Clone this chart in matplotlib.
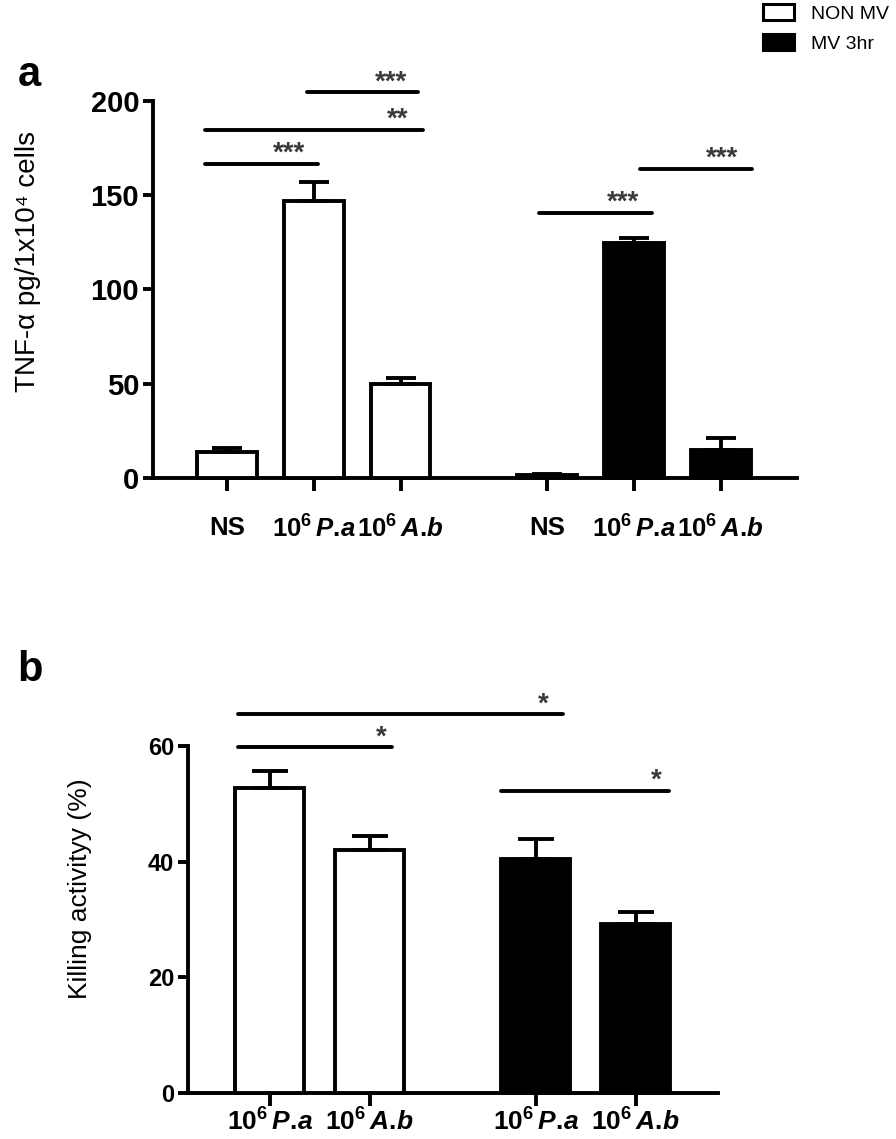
import matplotlib
matplotlib.use("Agg")
import numpy as np
from matplotlib import pyplot as plt
from matplotlib.patches import Patch

plt.rcParams['font.family'] = ['Liberation Sans', 'DejaVu Sans']
plt.rcParams['mathtext.fontset'] = 'custom'
plt.rcParams['mathtext.rm'] = 'Liberation Sans:bold'
plt.rcParams['mathtext.it'] = 'Liberation Sans:bold:italic'
plt.rcParams['mathtext.bf'] = 'Liberation Sans:bold'

# panel a: TNF-alpha
a_labels = ['NS', r'$\mathrm{10^6}\,P.\!a$', r'$\mathrm{10^6}\,A.\!b$']
a_non_mv = [14, 147, 50]
a_non_mv_err = [2, 10, 3]
a_mv = [1.5, 124.5, 15]
a_mv_err = [0.5, 2.5, 6]
# (x start, x end, y, stars, star x) in bar-slot units
a_sig = [(-0.25, 1.05, 166.6, '***', 0.71),
         (-0.25, 2.26, 184.6, '**', 1.97),
         (0.92, 2.20, 204.4, '***', 1.89),
         (3.60, 4.90, 140.6, '***', 4.56),
         (4.76, 6.05, 164.0, '***', 5.71)]

# panel b: killing activity
b_labels = [r'$\mathrm{10^6}\,P.\!a$', r'$\mathrm{10^6}\,A.\!b$']
b_non_mv = [52.8, 42.1]
b_non_mv_err = [2.9, 2.3]
b_mv = [40.4, 29.2]
b_mv_err = [3.6, 2.1]
b_sig = [(-0.32, 1.22, 59.8, '*', 1.11),
         (-0.32, 2.93, 65.5, '*', 2.73),
         (2.31, 3.99, 52.3, '*', 3.86)]

LW = 2.8


def style_axes(ax):
    for s in ['top', 'right']:
        ax.spines[s].set_visible(False)
    for s in ['left', 'bottom']:
        ax.spines[s].set_linewidth(LW)
    ax.tick_params(width=LW, length=7, direction='out')


def draw_bars(ax, x, vals, errs, face, capsize):
    ax.bar(x, vals, width=0.69, color=face, edgecolor='black', linewidth=LW,
           yerr=[np.zeros(len(errs)), errs],
           error_kw=dict(ecolor='black', elinewidth=LW, capsize=capsize, capthick=LW),
           zorder=3, clip_on=False)


def draw_sig(ax, sig):
    for x0, x1, y, txt, xs in sig:
        ax.plot([x0, x1], [y, y], color='black', lw=LW, solid_capstyle='round', clip_on=False)
        ax.annotate(txt, (xs, y), xytext=(0, 2), textcoords='offset points',
                    ha='center', va='baseline', fontsize=20, fontweight='bold',
                    color='#3a3a3a', annotation_clip=False)


fig = plt.figure(figsize=(8.96, 11.39), dpi=100)

# ---- a ----
ax1 = fig.add_axes([0.1708, 0.5803, 0.7187, 0.3313])
xa1 = np.arange(3)
xa2 = np.arange(3) + 3.69
draw_bars(ax1, xa1, a_non_mv, a_non_mv_err, 'white', 11)
draw_bars(ax1, xa2, a_mv, a_mv_err, 'black', 11)
draw_sig(ax1, a_sig)
ax1.set_xlim(-0.853, 6.57)
ax1.set_ylim(0, 200)
ax1.set_yticks([0, 50, 100, 150, 200])
ax1.set_xticks(np.concatenate([xa1, xa2]))
ax1.set_xticklabels(a_labels + a_labels)
style_axes(ax1)
ax1.tick_params(axis='x', length=9, pad=18, labelsize=18.5)
ax1.tick_params(axis='y', labelsize=21, pad=3)
for t in ax1.get_xticklabels() + ax1.get_yticklabels():
    t.set_fontweight('bold')
ax1.set_ylabel('TNF-α pg/1x10⁴ cells', fontsize=20, va='center')
ax1.yaxis.set_label_coords(-0.194, 0.573)
fig.text(0.033, 0.934, 'a', fontsize=30, fontweight='bold', ha='center', va='center')

# ---- b ----
ax2 = fig.add_axes([0.2098, 0.0404, 0.5915, 0.3046])
xb1 = np.arange(2)
xb2 = np.arange(2) + 2.66
draw_bars(ax2, xb1, b_non_mv, b_non_mv_err, 'white', 13)
draw_bars(ax2, xb2, b_mv, b_mv_err, 'black', 13)
draw_sig(ax2, b_sig)
ax2.set_xlim(-0.82, 4.48)
ax2.set_ylim(0, 60)
ax2.set_yticks([0, 20, 40, 60])
ax2.set_xticks(np.concatenate([xb1, xb2]))
ax2.set_xticklabels(b_labels + b_labels)
style_axes(ax2)
ax2.tick_params(axis='x', length=9, pad=2, labelsize=19)
ax2.tick_params(axis='y', labelsize=17, pad=3)
for t in ax2.get_yticklabels():
    t.set_fontweight('bold')
ax2.set_ylabel('Killing activityy (%)', fontsize=19, va='center')
ax2.yaxis.set_label_coords(-0.204, 0.59)
fig.text(0.033, 0.412, 'b', fontsize=30, fontweight='bold', ha='center', va='center')

# legend
handles = [Patch(facecolor='white', edgecolor='black', linewidth=2.2, label='NON MV'),
           Patch(facecolor='black', edgecolor='black', linewidth=2.2, label='MV 3hr')]
fig.legend(handles=handles, loc='upper right', bbox_to_anchor=(1.012, 1.012), frameon=False,
           handlelength=1.6, handleheight=0.9, labelspacing=0.6, handletextpad=0.9,
           prop={'size': 14})

fig.savefig('out.png', dpi=100)
